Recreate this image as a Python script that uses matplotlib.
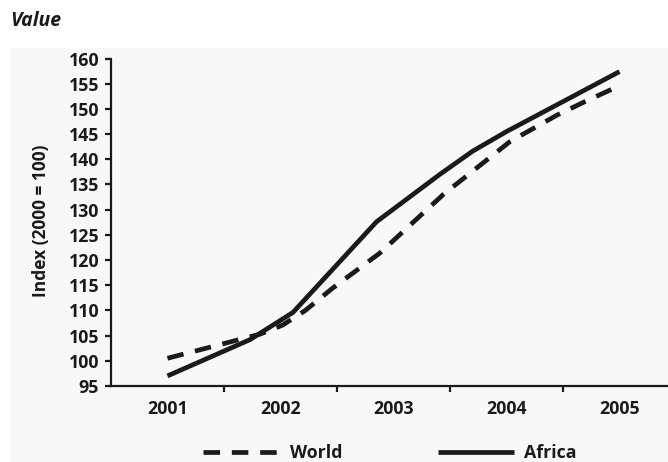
import matplotlib
matplotlib.use("Agg")
import matplotlib.pyplot as plt
from matplotlib.patches import Rectangle

# ---- data ----
years = [2001, 2002, 2003, 2004, 2005]
year_labels = ["2001", "2002", "2003", "2004", "2005"]
y_ticks = list(range(95, 161, 5))

africa_t = [2001.0, 2001.73, 2002.11, 2002.85, 2003.41, 2003.70, 2004.00, 2005.0]
africa_v = [97.0, 104.2, 109.6, 127.6, 137.0, 141.6, 145.5, 157.4]

world_t = [2001.0, 2001.82, 2002.02, 2002.22, 2002.46, 2002.88, 2003.44,
           2004.03, 2004.45, 2004.69, 2005.0]
world_v = [100.5, 105.3, 107.1, 110.0, 114.4, 121.4, 133.0,
           143.5, 148.8, 151.4, 154.6]

series_names = ["World", "Africa"]

# ---- figure ----
W, H = 668, 462
fig = plt.figure(figsize=(W / 100, H / 100), dpi=100)
fig.patch.set_facecolor("white")

# light panel behind the chart
panel = Rectangle((10 / W, 0), 1 - 10 / W, 1 - 48 / H,
                  transform=fig.transFigure, facecolor="#f7f8f8",
                  edgecolor="none", zorder=-10)
fig.add_artist(panel)

ax_l, ax_r = 111 / W, 1.0
ax_b, ax_t = 1 - 386 / H, 1 - 58.5 / H
ax = fig.add_axes([ax_l, ax_b, ax_r - ax_l, ax_t - ax_b])
ax.set_facecolor("none")
ax.set_zorder(5)

lw = 3.4
ax.plot(world_t, world_v, color="#1a1a1a", lw=lw, linestyle=(0, (3.5, 2.5)),
        solid_capstyle="butt", dash_capstyle="butt", label=series_names[0])
ax.plot(africa_t, africa_v, color="#1a1a1a", lw=lw, solid_capstyle="butt",
        label=series_names[1])

ax.set_ylim(95, 160)
ax.set_xlim(2000.5, 2000.5 + (W - 111) / 113)

tick_font = dict(family="Open Sans", weight="bold", size=12.8)

ax.set_yticks(y_ticks)
ax.set_yticklabels([str(v) for v in y_ticks], fontdict=tick_font, color="#1a1a1a")
ax.tick_params(axis="y", direction="out", length=4.5, width=1.6, pad=4,
               color="#1a1a1a")

ax.set_xticks(years)
ax.set_xticklabels(year_labels, fontdict=tick_font, color="#1a1a1a")
ax.tick_params(axis="x", which="major", length=0, pad=10)
ax.set_xticks([2001.5, 2002.5, 2003.5, 2004.5], minor=True)
ax.tick_params(axis="x", which="minor", direction="out", length=4.5, width=1.6,
               color="#1a1a1a")

for s in ["top", "right"]:
    ax.spines[s].set_visible(False)
for s in ["left", "bottom"]:
    ax.spines[s].set_linewidth(1.6)
    ax.spines[s].set_color("#1a1a1a")

ax.set_ylabel("Index (2000 = 100)", family="Open Sans", weight="bold",
              size=12.5, color="#1a1a1a")
ax.yaxis.set_label_coords(-0.11, 0.505)

fig.text(10 / W, 1 - 21 / H, "Value", family="Open Sans", weight="bold",
         style="italic", size=14, va="center", ha="left", color="#1a1a1a")

leg = fig.legend(loc="center", bbox_to_anchor=(390 / W, 1 - 453 / H), ncol=2,
                 frameon=False, handlelength=4.3, handletextpad=0.55,
                 columnspacing=5.4,
                 prop=dict(family="Open Sans", weight="bold", size=12.8))
for t in leg.get_texts():
    t.set_color("#1a1a1a")

fig.savefig("out.png", dpi=100)
